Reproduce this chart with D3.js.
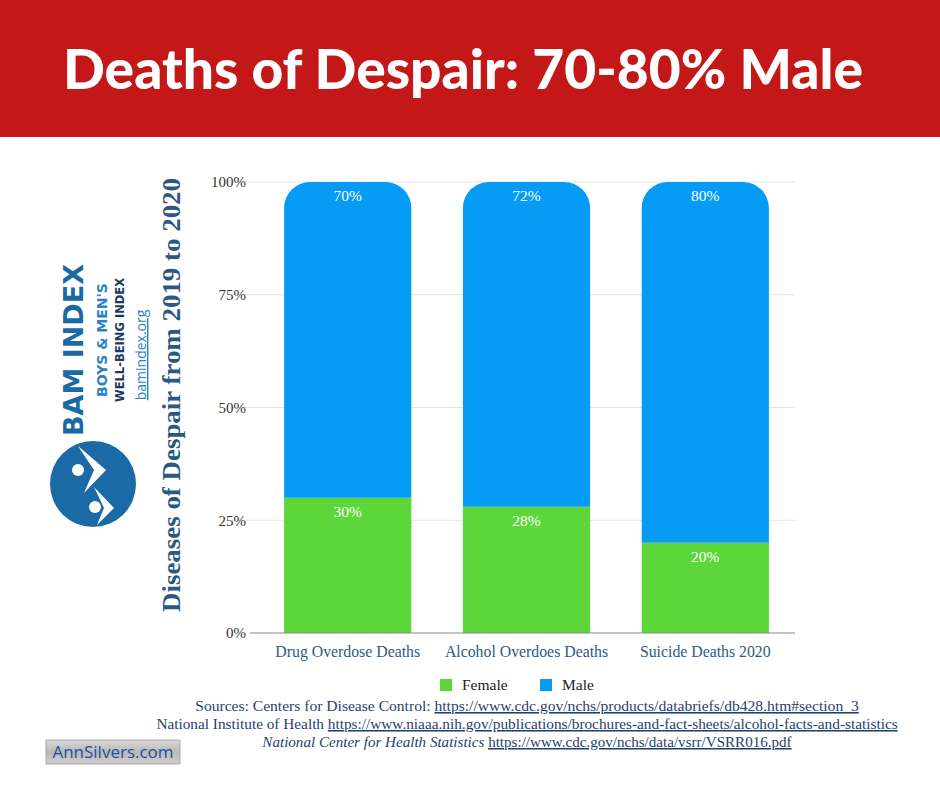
<!DOCTYPE html>
<html><head><meta charset="utf-8">
<script src="https://cdn.jsdelivr.net/npm/d3@7"></script>
<style>body{margin:0;background:#fff}svg{display:block}</style>
</head><body>
<script>
const categories = ["Drug Overdose Deaths", "Alcohol Overdoes Deaths", "Suicide Deaths 2020"];
const female = [30, 28, 20];
const male = [70, 72, 80];
const yTicks = [0, 25, 50, 75, 100];
const seriesNames = ["Female", "Male"];
const seriesColors = ["#5dd63a", "#069cf6"];
const sources = [
  {pre: "Sources: Centers for Disease Control: ", link: "https://www.cdc.gov/nchs/products/databriefs/db428.htm#section_3", italic: false, width: 664},
  {pre: "National Institute of Health ", link: "https://www.niaaa.nih.gov/publications/brochures-and-fact-sheets/alcohol-facts-and-statistics", italic: false, width: 742},
  {pre: "National Center for Health Statistics ", link: "https://www.cdc.gov/nchs/data/vsrr/VSRR016.pdf", italic: true, width: 530}
];

const W = 940, H = 788;
const svg = d3.select("body").append("svg").attr("width", W).attr("height", H);
svg.append("rect").attr("width", W).attr("height", H).attr("fill", "#fff");

// Banner
svg.append("rect").attr("x", 0).attr("y", 0).attr("width", W).attr("height", 137).attr("fill", "#c41718");
const title = svg.append("text").attr("x", 463).attr("y", 89).attr("text-anchor", "middle")
  .attr("fill", "#fff").attr("font-family", "Lato").attr("font-weight", 900).attr("font-size", 52)
  .text("Deaths of Despair: 70-80% Male");
{ const L = title.node().getComputedTextLength(); title.attr("font-size", 52 * 800 / L); }

const serif = "'Liberation Serif', 'DejaVu Serif', serif";

// Scales
const x = d3.scaleBand().domain(categories).range([258, 795]).paddingInner(0.2885).paddingOuter(0.146);
const y = d3.scaleLinear().domain([0, 100]).range([633, 182]);

// Grid
svg.append("g").selectAll("line").data(yTicks.filter(d => d > 0)).join("line")
  .attr("x1", 232).attr("x2", 795).attr("y1", d => y(d)).attr("y2", d => y(d))
  .attr("stroke", "#e4e4e4").attr("stroke-width", 1);

// Y axis labels
const yAxis = svg.append("g").attr("transform", "translate(246,0)")
  .call(d3.axisLeft(y).tickValues(yTicks).tickFormat(d => d + "%").tickSize(0).tickPadding(0));
yAxis.select(".domain").remove();
yAxis.selectAll("text").attr("font-family", serif).attr("font-size", 15).attr("fill", "#333");

// Bars
const bw = x.bandwidth(), r = 26;
categories.forEach((c, i) => {
  const x0 = x(c);
  svg.append("rect").attr("x", x0).attr("y", y(female[i])).attr("width", bw)
    .attr("height", y(0) - y(female[i])).attr("fill", seriesColors[0]);
  const top = y(female[i] + male[i]), bot = y(female[i]);
  const p = d3.path();
  p.moveTo(x0, bot);
  p.lineTo(x0, top + r);
  p.arcTo(x0, top, x0 + r, top, r);
  p.lineTo(x0 + bw - r, top);
  p.arcTo(x0 + bw, top, x0 + bw, top + r, r);
  p.lineTo(x0 + bw, bot);
  p.closePath();
  svg.append("path").attr("d", p.toString()).attr("fill", seriesColors[1]);
  svg.append("text").attr("x", x0 + bw / 2).attr("y", top + 19).attr("text-anchor", "middle")
    .attr("font-family", serif).attr("font-size", 15.5).attr("fill", "#fff").text(male[i] + "%");
  svg.append("text").attr("x", x0 + bw / 2).attr("y", bot + 19).attr("text-anchor", "middle")
    .attr("font-family", serif).attr("font-size", 15.5).attr("fill", "#fff").text(female[i] + "%");
});

// Baseline
svg.append("line").attr("x1", 250).attr("x2", 795).attr("y1", y(0)).attr("y2", y(0))
  .attr("stroke", "#888").attr("stroke-width", 1.2);

// X axis labels
const xAxis = svg.append("g").attr("transform", `translate(0,${y(0)})`)
  .call(d3.axisBottom(x).tickSize(0).tickPadding(13));
xAxis.select(".domain").remove();
xAxis.selectAll("text").attr("font-family", serif).attr("font-size", 15.8).attr("fill", "#2c5a86");

// Legend
const legX = [440, 540];
seriesNames.forEach((s, i) => {
  svg.append("rect").attr("x", legX[i]).attr("y", 679).attr("width", 12).attr("height", 12).attr("fill", seriesColors[i]);
  svg.append("text").attr("x", legX[i] + 22).attr("y", 690).attr("font-family", serif)
    .attr("font-size", 15.5).attr("fill", "#222").text(s);
});

// Sources
sources.forEach((s, i) => {
  const t = svg.append("text").attr("x", 527).attr("y", 711 + i * 18).attr("text-anchor", "middle")
    .attr("font-family", serif).attr("font-size", 14).attr("fill", "#1f3f6e");
  t.append("tspan").attr("font-style", s.italic ? "italic" : "normal").text(s.pre);
  t.append("tspan").attr("text-decoration", "underline").text(s.link);
  const L = t.node().getComputedTextLength();
  t.attr("font-size", 14 * s.width / L);
});

// Left rotated title
svg.append("text").attr("transform", "translate(180,395) rotate(-90)").attr("text-anchor", "middle")
  .attr("font-family", serif).attr("font-weight", "bold").attr("font-size", 25).attr("fill", "#2b5783")
  .attr("textLength", 434).attr("lengthAdjust", "spacingAndGlyphs")
  .text("Diseases of Despair from 2019 to 2020");

// Logo
const logoBlue = "#1a6aa6";
svg.append("text").attr("transform", "translate(83,350) rotate(-90)").attr("text-anchor", "middle")
  .attr("font-family", "'DejaVu Sans'").attr("font-weight", "bold").attr("font-size", 27).attr("fill", logoBlue)
  .text("BAM INDEX");
svg.append("text").attr("transform", "translate(107,340) rotate(-90)").attr("text-anchor", "middle")
  .attr("font-family", "'DejaVu Sans'").attr("font-weight", "bold").attr("font-size", 14).attr("fill", "#2a83c4")
  .text("BOYS & MEN'S");
svg.append("text").attr("transform", "translate(124,340) rotate(-90)").attr("text-anchor", "middle")
  .attr("font-family", "'DejaVu Sans'").attr("font-weight", "bold").attr("font-size", 11.5).attr("fill", "#1b3a5c")
  .text("WELL-BEING INDEX");
svg.append("text").attr("transform", "translate(146,355) rotate(-90)").attr("text-anchor", "middle")
  .attr("font-family", "'Open Sans'").attr("font-size", 14).attr("fill", "#2a83c4")
  .attr("text-decoration", "underline").text("bamindex.org");
svg.append("circle").attr("cx", 93).attr("cy", 484).attr("r", 43).attr("fill", logoBlue);
const lg = svg.append("g").attr("fill", "#fff");
lg.append("circle").attr("cx", 78).attr("cy", 470).attr("r", 6);
lg.append("circle").attr("cx", 95).attr("cy", 507).attr("r", 6);
lg.append("path").attr("d", "M78,446 L106,470 L84,493 L94,470 Z");
lg.append("path").attr("d", "M94,487 L114,508 L97,525 L104,508 Z");

// AnnSilvers badge
const grad = svg.append("defs").append("linearGradient").attr("id", "silver").attr("x1", 0).attr("x2", 0).attr("y1", 0).attr("y2", 1);
grad.append("stop").attr("offset", "0%").attr("stop-color", "#d8d8d8");
grad.append("stop").attr("offset", "50%").attr("stop-color", "#b9b9b9");
grad.append("stop").attr("offset", "100%").attr("stop-color", "#cfcfcf");
svg.append("rect").attr("x", 46).attr("y", 740).attr("width", 134).attr("height", 24).attr("fill", "url(#silver)")
  .attr("stroke", "#999").attr("stroke-width", 0.8);
svg.append("text").attr("x", 113).attr("y", 758).attr("text-anchor", "middle")
  .attr("font-family", "'Open Sans'").attr("font-size", 17).attr("fill", "#1b4fa0").text("AnnSilvers.com");
</script>
</body></html>
